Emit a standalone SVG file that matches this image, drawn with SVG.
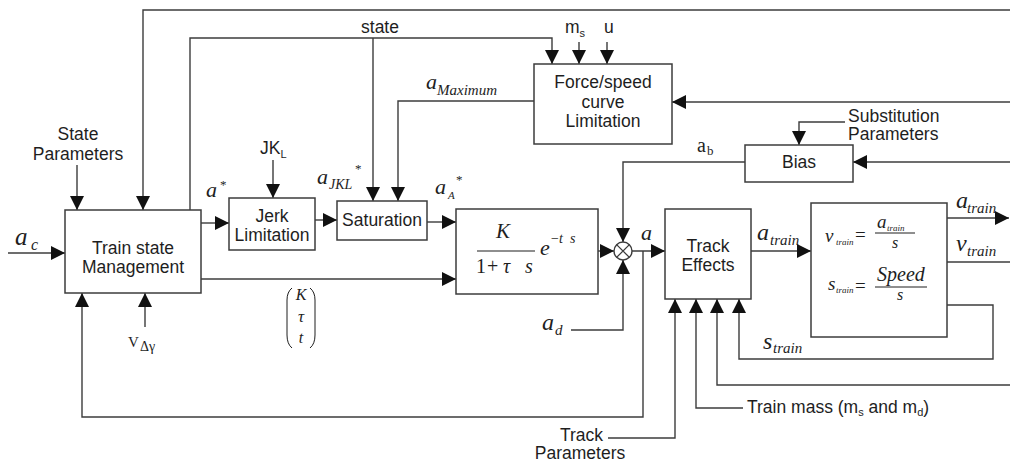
<svg xmlns="http://www.w3.org/2000/svg" width="1010" height="461" viewBox="0 0 1010 461">
  <style>
    .box { fill: #fff; stroke: #3c3c3c; stroke-width: 1.5; }
    .wire { fill: none; stroke: #3c3c3c; stroke-width: 1.4; }
    .arr { marker-end: url(#head); }
    .lbl { font-family: "Liberation Sans", Arial, sans-serif; font-size: 17.5px; fill: #1e1e1e; }
    .mid { text-anchor: middle; }
    .mi { font-family: "Liberation Serif", "Times New Roman", serif; font-style: italic; fill: #1e1e1e; }
    .mr { font-family: "Liberation Serif", "Times New Roman", serif; fill: #1e1e1e; }
  </style>
  <defs>
    <marker id="head" markerUnits="userSpaceOnUse" markerWidth="14" markerHeight="14" refX="14" refY="7" orient="auto">
      <path d="M0,0 L14,7 L0,14 z" fill="#111"/>
    </marker>
  </defs>

  <rect width="1010" height="461" fill="#fff"/>

  <!-- connectors -->
  <g id="connectors">
    <path class="wire arr" d="M1010,10 H143 V210"/>
    <path class="wire arr" d="M190,210 V38 H552 V64"/>
    <path class="wire arr" d="M373,38 V201"/>
    <path class="wire arr" d="M579,42 V64"/>
    <path class="wire arr" d="M607,42 V64"/>
    <path class="wire arr" d="M534,101 H398 V201"/>
    <path class="wire arr" d="M1010,102 H672"/>
    <path class="wire arr" d="M1010,162 H853"/>
    <path class="wire arr" d="M845,122 H799 V145"/>
    <path class="wire arr" d="M745,162 H623 V242"/>
    <path class="wire arr" d="M77,165 V210"/>
    <path class="wire arr" d="M273,160 V198"/>
    <path class="wire arr" d="M8,253 H65"/>
    <path class="wire arr" d="M201,223 H229"/>
    <path class="wire arr" d="M315,220 H337"/>
    <path class="wire arr" d="M427,222 H456"/>
    <path class="wire arr" d="M201,279 H456"/>
    <path class="wire arr" d="M598,251 H614"/>
    <path class="wire arr" d="M571,330 H623 V260"/>
    <path class="wire arr" d="M632,251 H665"/>
    <path class="wire arr" d="M643,251 V417 H82 V293"/>
    <path class="wire arr" d="M145,327 V293"/>
    <path class="wire arr" d="M751,251 H811"/>
    <path class="wire arr" d="M947,218 H1009"/>
    <path class="wire" d="M947,262 H1010"/>
    <path class="wire arr" d="M947,305 H993 V359 H739 V299"/>
    <path class="wire arr" d="M1010,385 H717 V299"/>
    <path class="wire arr" d="M743,408 H696 V299"/>
    <path class="wire arr" d="M608,438 H675 V299"/>
  </g>

  <!-- Train state management -->
  <g id="train-state">
    <rect class="box" x="65" y="210" width="136" height="83"/>
    <text class="lbl mid" x="133" y="254">Train state</text>
    <text class="lbl mid" x="133" y="273">Management</text>
  </g>

  <g id="jerk">
    <rect class="box" x="229" y="198" width="86" height="52"/>
    <text class="lbl mid" x="272" y="222">Jerk</text>
    <text class="lbl mid" x="272" y="241">Limitation</text>
  </g>

  <g id="saturation">
    <rect class="box" x="337" y="201" width="90" height="39"/>
    <text class="lbl mid" x="382" y="226">Saturation</text>
  </g>

  <g id="force-speed">
    <rect class="box" x="534" y="64" width="138" height="80"/>
    <text class="lbl mid" x="603" y="88">Force/speed</text>
    <text class="lbl mid" x="603" y="108">curve</text>
    <text class="lbl mid" x="603" y="127">Limitation</text>
  </g>

  <g id="bias">
    <rect class="box" x="745" y="145" width="108" height="37"/>
    <text class="lbl mid" x="799" y="168">Bias</text>
  </g>

  <!-- first-order lag with dead time -->
  <g id="transfer">
    <rect class="box" x="456" y="209" width="142" height="85"/>
    <text class="mi" x="503" y="238" font-size="21" text-anchor="middle">K</text>
    <line x1="477" y1="251" x2="535" y2="251" stroke="#1e1e1e" stroke-width="1.2"/>
    <text class="mr" x="476" y="273" font-size="20">1</text>
    <text class="mr" x="487" y="273" font-size="20">+</text>
    <text class="mi" x="503" y="273" font-size="20">τ</text>
    <text class="mi" x="525" y="273" font-size="20">s</text>
    <text class="mi" x="540" y="255" font-size="22">e</text>
    <text class="mr" x="551" y="243" font-size="14">−</text>
    <text class="mi" x="559" y="243" font-size="14">t</text>
    <text class="mi" x="570" y="243" font-size="14">s</text>
  </g>

  <!-- summing junction -->
  <g id="sum">
    <circle cx="623" cy="251" r="9" fill="#fff" stroke="#3c3c3c" stroke-width="1.4"/>
    <path d="M616.6,244.6 L629.4,257.4 M629.4,244.6 L616.6,257.4" stroke="#3c3c3c" stroke-width="1.3"/>
  </g>

  <g id="track-effects">
    <rect class="box" x="665" y="209" width="86" height="90"/>
    <text class="lbl mid" x="708" y="252">Track</text>
    <text class="lbl mid" x="708" y="271">Effects</text>
  </g>

  <!-- integrators -->
  <g id="integrator">
    <rect class="box" x="811" y="203" width="136" height="134"/>
    <text class="mi" x="825" y="242" font-size="19">v</text>
    <text class="mi" x="836" y="245" font-size="9">train</text>
    <text class="mr" x="855" y="241" font-size="19">=</text>
    <text class="mi" x="877" y="228" font-size="19">a</text>
    <text class="mi" x="887" y="231" font-size="9">train</text>
    <line x1="875" y1="233" x2="915" y2="233" stroke="#1e1e1e" stroke-width="1"/>
    <text class="mi" x="892" y="248" font-size="16">s</text>
    <text class="mi" x="828" y="290" font-size="19">s</text>
    <text class="mi" x="836" y="293" font-size="9">train</text>
    <text class="mr" x="855" y="292" font-size="19">=</text>
    <text class="mi" x="877" y="281" font-size="20">Speed</text>
    <line x1="875" y1="287" x2="927" y2="287" stroke="#1e1e1e" stroke-width="1"/>
    <text class="mi" x="897" y="300" font-size="16">s</text>
  </g>

  <!-- signal labels -->
  <g id="labels">
    <text class="lbl mid" x="78" y="140">State</text>
    <text class="lbl mid" x="78" y="160">Parameters</text>
    <text class="lbl mid" x="380" y="33">state</text>
    <text class="lbl" x="565" y="33">m<tspan font-size="11" dy="4">s</tspan></text>
    <text class="lbl" x="604" y="33">u</text>
    <text class="lbl" x="260" y="154">JK<tspan font-size="11" dy="4">L</tspan></text>
    <text class="lbl" x="848" y="122">Substitution</text>
    <text class="lbl" x="848" y="140">Parameters</text>
    <text class="lbl" x="747" y="413">Train mass (m<tspan font-size="11" dy="3">s</tspan><tspan dy="-3"> and m</tspan><tspan font-size="11" dy="3">d</tspan><tspan dy="-3">)</tspan></text>
    <text class="lbl" x="603" y="441" text-anchor="end">Track</text>
    <text class="lbl mid" x="580" y="459">Parameters</text>

    <text class="mi" x="15" y="245" font-size="25">a</text>
    <text class="mi" x="31" y="250" font-size="16">c</text>
    <text class="mi" x="206" y="197" font-size="22">a</text>
    <text class="mr" x="220" y="189" font-size="13">*</text>
    <text class="mi" x="317" y="184" font-size="22">a</text>
    <text class="mi" x="329" y="189" font-size="14">JKL</text>
    <text class="mr" x="355" y="173" font-size="13">*</text>
    <text class="mi" x="435" y="194" font-size="22">a</text>
    <text class="mi" x="448" y="199" font-size="11">A</text>
    <text class="mr" x="456" y="184" font-size="13">*</text>
    <text class="mi" x="426" y="89" font-size="22">a</text>
    <text class="mi" x="437" y="95" font-size="15">Maximum</text>
    <text class="mr" x="697" y="152" font-size="20">a</text>
    <text class="mr" x="707" y="155" font-size="13">b</text>
    <text class="mi" x="641" y="240" font-size="22">a</text>
    <text class="mi" x="542" y="330" font-size="24">a</text>
    <text class="mi" x="555" y="335" font-size="15">d</text>
    <text class="mi" x="757" y="240" font-size="24">a</text>
    <text class="mi" x="770" y="245" font-size="15">train</text>
    <text class="mi" x="956" y="208" font-size="24">a</text>
    <text class="mi" x="967" y="213" font-size="15">train</text>
    <text class="mi" x="956" y="251" font-size="24">v</text>
    <text class="mi" x="967" y="256" font-size="15">train</text>
    <text class="mi" x="763" y="349" font-size="24">s</text>
    <text class="mi" x="773" y="353" font-size="15">train</text>
    <text class="mr" x="128" y="347" font-size="15">V</text>
    <text class="mr" x="140" y="351" font-size="14">Δγ</text>

    <!-- parameter vector -->
    <path d="M292,288 Q287,292 287,300 V335 Q287,344 292,348 M310,288 Q315,292 315,300 V335 Q315,344 310,348" fill="none" stroke="#1e1e1e" stroke-width="1"/>
    <text class="mi" x="301" y="300" font-size="16" text-anchor="middle">K</text>
    <text class="mi" x="301" y="322" font-size="17" text-anchor="middle">τ</text>
    <text class="mi" x="301" y="343" font-size="16" text-anchor="middle">t</text>
  </g>
</svg>
